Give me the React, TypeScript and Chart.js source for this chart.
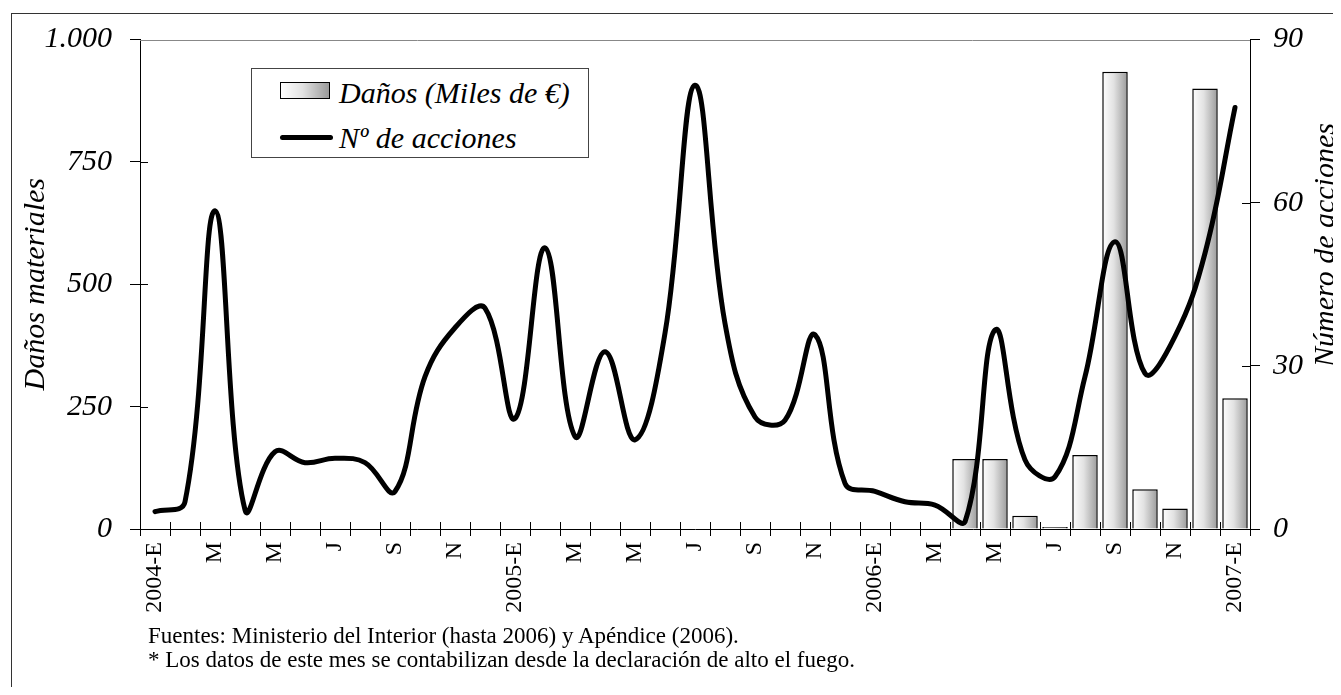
import React, { useEffect, useRef } from 'react';
import { Chart, registerables } from 'chart.js';

Chart.register(...registerables);

const SERIF = "'Liberation Serif', 'Times New Roman', serif";

// Month categories (Jan 2004 .. Jan 2007), labelled every second month
const monthLabels = [
  '2004-E', '', 'M', '', 'M', '', 'J', '', 'S', '', 'N', '',
  '2005-E', '', 'M', '', 'M', '', 'J', '', 'S', '', 'N', '',
  '2006-E', '', 'M', '', 'M', '', 'J', '', 'S', '', 'N', '',
  '2007-E',
];

// Daños materiales (miles de €) – left axis
const damages = [
  null, null, null, null, null, null, null, null, null, null, null, null,
  null, null, null, null, null, null, null, null, null, null, null, null,
  null, null, null, 143, 143, 27, 4, 151, 934, 81, 42, 900,
  267,
];

// Nº de acciones – right axis
const actions = [
  3.2, 5.0, 58.5, 3.5, 14.2, 12.2, 13, 12.2, 6.9, 28, 37, 40.6,
  20.3, 51.7, 17, 32.6, 16.4, 36, 81.6, 37.8, 20.6, 20, 35.7, 8.4,
  6.9, 5.0, 4.4, 1.3, 36.6, 12.7, 9.6, 28, 52.8, 28.6, 35.4, 50.7,
  77.5,
];

const leftTicks = [0, 250, 500, 750, 1000];
const leftTickLabels = ['0', '250', '500', '750', '1.000'];
const rightTicks = [0, 30, 60, 90];
const rightTickLabels = ['0', '30', '60', '90'];

const barFill = (c: any) => {
  const chart = c.chart;
  const x = chart.scales && chart.scales.x;
  if (!x || c.dataIndex == null) return '#dddddd';
  const cx = x.getPixelForValue(c.dataIndex);
  const w = (x.width / monthLabels.length) * 0.85;
  if (!isFinite(cx) || !isFinite(w) || w <= 0) return '#dddddd';
  const g = chart.ctx.createLinearGradient(cx - w / 2, 0, cx + w / 2, 0);
  g.addColorStop(0, '#ffffff');
  g.addColorStop(0.45, '#e2e2e2');
  g.addColorStop(1, '#9a9a9a');
  return g;
};

const decor = {
  id: 'decor',
  afterDraw(chart: any) {
    const { ctx, chartArea: a, scales } = chart;
    ctx.save();
    ctx.strokeStyle = '#000';
    ctx.lineWidth = 1;
    ctx.beginPath();
    leftTicks.forEach((v) => {
      const py = Math.round(scales.y.getPixelForValue(v)) + 0.5;
      ctx.moveTo(a.left, py);
      ctx.lineTo(a.left + 8, py);
    });
    rightTicks.forEach((v) => {
      const py = Math.round(scales.y1.getPixelForValue(v)) + 0.5;
      ctx.moveTo(a.right - 8, py);
      ctx.lineTo(a.right, py);
    });
    const n = monthLabels.length;
    for (let i = 0; i <= n; i++) {
      const px = Math.round(a.left + ((a.right - a.left) * i) / n) + 0.5;
      ctx.moveTo(px, a.bottom - 7);
      ctx.lineTo(px, a.bottom);
    }
    ctx.stroke();
    ctx.strokeStyle = '#888';
    ctx.beginPath();
    const ty = Math.round(a.top) + 0.5;
    ctx.moveTo(a.left, ty);
    ctx.lineTo(a.right, ty);
    ctx.stroke();
    // right axis title (reads bottom-to-top)
    ctx.translate(1314, 231);
    ctx.rotate(-Math.PI / 2);
    ctx.font = `italic 30px ${SERIF}`;
    ctx.fillStyle = '#000';
    ctx.textAlign = 'center';
    ctx.textBaseline = 'middle';
    ctx.fillText('Número de acciones', 0, 0);
    ctx.restore();
  },
};

const noVPad = (s: any) => {
  s.paddingTop = 0;
  s.paddingBottom = 0;
};

export default function App() {
  const ref = useRef<HTMLCanvasElement>(null);

  useEffect(() => {
    const canvas = ref.current;
    if (!canvas) return;
    const tickFont = { family: SERIF, size: 30, style: 'italic' as const };
    const chart = new Chart(canvas, {
      type: 'bar',
      data: {
        labels: monthLabels,
        datasets: [
          {
            type: 'line',
            label: 'Nº de acciones',
            data: actions,
            yAxisID: 'y1',
            borderColor: '#000',
            borderWidth: 5,
            pointRadius: 0,
            tension: 0.4,
            borderCapStyle: 'round',
            borderJoinStyle: 'round',
            order: 0,
          } as any,
          {
            type: 'bar',
            label: 'Daños (Miles de €)',
            data: damages,
            yAxisID: 'y',
            backgroundColor: barFill,
            borderColor: '#000',
            borderWidth: 1.5,
            barPercentage: 0.85,
            categoryPercentage: 1,
            order: 1,
          } as any,
        ],
      },
      options: {
        responsive: false,
        animation: false,
        layout: { padding: { top: 25.5, left: 0, right: 0, bottom: 0 } },
        plugins: { legend: { display: false }, tooltip: { enabled: false } },
        scales: {
          x: {
            offset: true,
            grid: { offset: true, drawOnChartArea: false, tickLength: 7, color: '#000' },
            border: { color: '#000' },
            ticks: {
              autoSkip: false,
              maxRotation: 90,
              minRotation: 90,
              padding: 6,
              color: '#000',
              font: { family: SERIF, size: 24 },
            },
            afterFit: (s: any) => { s.height = 153; },
          },
          y: {
            position: 'left',
            min: 0,
            max: 1000,
            afterBuildTicks: (s: any) => { s.ticks = leftTicks.map((v) => ({ value: v })); },
            ticks: {
              callback: (_v: any, i: number) => leftTickLabels[i],
              padding: 18,
              color: '#000',
              font: tickFont,
            },
            grid: { drawOnChartArea: false, tickLength: 10, color: '#000' },
            border: { color: '#000' },
            title: {
              display: true,
              text: 'Daños materiales',
              color: '#000',
              font: { family: SERIF, size: 30, style: 'italic' },
              padding: { top: 6, bottom: 0 },
            },
            afterFit: (s: any) => { s.width = 128; noVPad(s); },
          },
          y1: {
            position: 'right',
            min: 0,
            max: 90,
            afterBuildTicks: (s: any) => { s.ticks = rightTicks.map((v) => ({ value: v })); },
            ticks: {
              callback: (_v: any, i: number) => rightTickLabels[i],
              padding: 13,
              color: '#000',
              font: tickFont,
            },
            grid: { drawOnChartArea: false, tickLength: 10, color: '#000' },
            border: { color: '#000' },
            afterFit: (s: any) => { s.width = 91; noVPad(s); },
          },
        },
      } as any,
      plugins: [decor],
    });
    return () => chart.destroy();
  }, []);

  const txt: React.CSSProperties = {
    position: 'absolute',
    fontFamily: SERIF,
    fontStyle: 'italic',
    fontSize: 30,
    lineHeight: '36px',
    whiteSpace: 'nowrap',
    color: '#000',
  };
  const foot: React.CSSProperties = {
    position: 'absolute',
    left: 140,
    fontFamily: SERIF,
    fontSize: 23,
    lineHeight: '26px',
    whiteSpace: 'nowrap',
    color: '#000',
  };

  return (
    <div style={{ position: 'relative', width: 1333, height: 679, overflow: 'hidden' }}>
      <div
        style={{
          position: 'absolute', left: 3, top: 5, width: 1340, height: 700,
          borderLeft: '1px solid #333', borderTop: '1px solid #333',
        }}
      />
      <canvas
        ref={ref}
        width={1329}
        height={668}
        style={{ position: 'absolute', left: 4, top: 6, width: 1329, height: 668, display: 'block' }}
      />
      <div
        style={{
          position: 'absolute', left: 243, top: 60, width: 336, height: 88,
          border: '1px solid #444', background: '#fff',
        }}
      >
        <div
          style={{
            position: 'absolute', left: 28, top: 13, width: 48, height: 15,
            border: '1.5px solid #000',
            background: 'linear-gradient(to right, #ffffff 0%, #e2e2e2 45%, #9a9a9a 100%)',
          }}
        />
        <div style={{ ...txt, left: 87, top: 6 }}>Daños (Miles de €)</div>
        <div
          style={{
            position: 'absolute', left: 28, top: 66, width: 53, height: 5,
            background: '#000', borderRadius: 3,
          }}
        />
        <div style={{ ...txt, left: 87, top: 51 }}>Nº de acciones</div>
      </div>
      <div style={{ ...foot, top: 615 }}>Fuentes: Ministerio del Interior (hasta 2006) y Apéndice (2006).</div>
      <div style={{ ...foot, top: 639 }}>* Los datos de este mes se contabilizan desde la declaración de alto el fuego.</div>
    </div>
  );
}
